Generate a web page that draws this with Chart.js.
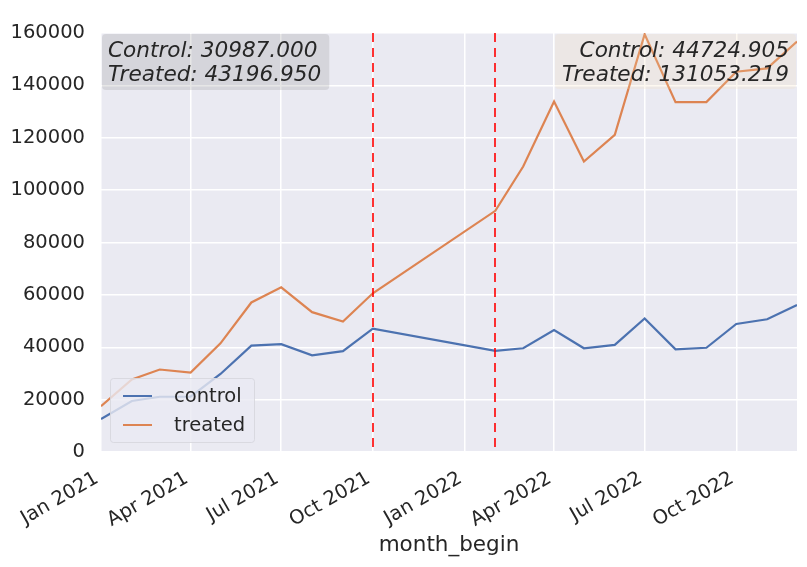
<!DOCTYPE html>
<html>
<head>
<meta charset="utf-8">
<script src="https://cdn.jsdelivr.net/npm/chart.js@4.4.1/dist/chart.umd.min.js"></script>
<style>
    html, body { margin: 0; padding: 0; background: #fff; }
    #wrap { width: 807px; height: 567px; }
</style>
</head>
<body>
<div id="wrap"><canvas id="chart" width="807" height="567"></canvas></div>
<script>
// monthly data (Nov 2021 - Jan 2022 missing in source)
const months = ['2021-01', '2021-02', '2021-03', '2021-04', '2021-05', '2021-06', '2021-07',
    '2021-08', '2021-09', '2021-10', '2022-02', '2022-03', '2022-04', '2022-05', '2022-06',
    '2022-07', '2022-08', '2022-09', '2022-10', '2022-11', '2022-12'];
const control = [12600, 19500, 21100, 21100, 29800, 40600, 41200, 36900, 38500, 47100,
    38600, 39600, 46600, 39600, 40900, 51000, 39200, 39800, 48900, 50700, 56100];
const treated = [17500, 27700, 31500, 30300, 41500, 57100, 62900, 53400, 49800, 60600,
    92100, 109000, 133800, 110900, 121100, 159500, 133600, 133600, 145200, 146500, 156700];

const eventMonths = ['2021-10', '2022-02'];
const tickMonths = ['2021-01', '2021-04', '2021-07', '2021-10', '2022-01', '2022-04', '2022-07', '2022-10'];
const tickLabels = ['Jan 2021', 'Apr 2021', 'Jul 2021', 'Oct 2021', 'Jan 2022', 'Apr 2022', 'Jul 2022', 'Oct 2022'];
const yTicks = [0, 20000, 40000, 60000, 80000, 100000, 120000, 140000, 160000];
const annotLeft = ['Control: 30987.000', 'Treated: 43196.950'];
const annotRight = ['Control: 44724.905', 'Treated: 131053.219'];

const FONT = "'DejaVu Sans', sans-serif";
const TEXT = '#262626';

// days since Jan 1 2021
function dayOf(m) {
    const [y, mo] = m.split('-').map(Number);
    return (Date.UTC(y, mo - 1, 1) - Date.UTC(2021, 0, 1)) / 86400000;
}

Chart.defaults.font.family = FONT;
Chart.defaults.color = TEXT;

const decorations = {
    id: 'decorations',
    beforeDraw(chart) {
        const { ctx, chartArea: a } = chart;
        ctx.save();
        ctx.fillStyle = '#EAEAF2';
        ctx.fillRect(a.left, a.top, a.right - a.left, a.bottom - a.top);
        ctx.restore();
    },
    afterDatasetsDraw(chart) {
        const { ctx, chartArea: a } = chart;
        const xs = chart.scales.x;
        ctx.save();

        // red dashed event lines
        ctx.strokeStyle = '#ff0000';
        ctx.lineWidth = 1.6;
        ctx.setLineDash([9, 6]);
        eventMonths.forEach(m => {
            const px = Math.round(xs.getPixelForValue(dayOf(m)));
            ctx.beginPath();
            ctx.moveTo(px, a.top);
            ctx.lineTo(px, a.bottom);
            ctx.stroke();
        });
        ctx.setLineDash([]);

        // annotation boxes
        ctx.font = 'italic 21.6px ' + FONT;
        const lh = 24;
        const wl = Math.max(...annotLeft.map(t => ctx.measureText(t).width));
        ctx.fillStyle = 'rgba(128,128,128,0.2)';
        roundRect(ctx, a.left + 1, a.top + 1, wl + 14, 56, 4);
        ctx.fill();
        ctx.fillStyle = TEXT;
        ctx.textAlign = 'left';
        ctx.textBaseline = 'alphabetic';
        annotLeft.forEach((t, i) => ctx.fillText(t, a.left + 7, a.top + 24 + i * lh));

        const wr = Math.max(...annotRight.map(t => ctx.measureText(t).width));
        const rx = a.right - 8;
        ctx.fillStyle = 'rgba(245,222,179,0.2)';
        roundRect(ctx, rx - wr - 7, a.top + 1, wr + 14, 55, 4);
        ctx.fill();
        ctx.fillStyle = TEXT;
        ctx.textAlign = 'right';
        annotRight.forEach((t, i) => ctx.fillText(t, rx, a.top + 24 + i * lh));

        // legend, lower left inside axes
        const lx = a.left + 9, ly = a.top + 345, lw = 144, lhgt = 64;
        ctx.fillStyle = 'rgba(234,234,242,0.8)';
        ctx.strokeStyle = 'rgba(215,215,222,0.9)';
        ctx.lineWidth = 1;
        roundRect(ctx, lx + 0.5, ly + 0.5, lw, lhgt, 3);
        ctx.fill();
        ctx.stroke();
        ctx.font = '19.5px ' + FONT;
        ctx.textAlign = 'left';
        ctx.textBaseline = 'middle';
        chart.data.datasets.forEach((ds, i) => {
            const cy = ly + 18 + i * 29;
            ctx.strokeStyle = ds.borderColor;
            ctx.lineWidth = 2;
            ctx.beginPath();
            ctx.moveTo(lx + 13, cy);
            ctx.lineTo(lx + 42, cy);
            ctx.stroke();
            ctx.fillStyle = TEXT;
            ctx.fillText(ds.label, lx + 64, cy + 1);
        });
        ctx.restore();
    }
};

function roundRect(ctx, x, y, w, h, r) {
    ctx.beginPath();
    ctx.moveTo(x + r, y);
    ctx.lineTo(x + w - r, y);
    ctx.quadraticCurveTo(x + w, y, x + w, y + r);
    ctx.lineTo(x + w, y + h - r);
    ctx.quadraticCurveTo(x + w, y + h, x + w - r, y + h);
    ctx.lineTo(x + r, y + h);
    ctx.quadraticCurveTo(x, y + h, x, y + h - r);
    ctx.lineTo(x, y + r);
    ctx.quadraticCurveTo(x, y, x + r, y);
    ctx.closePath();
}

const ctx = document.getElementById('chart').getContext('2d');
new Chart(ctx, {
    type: 'line',
    data: {
        datasets: [{
            label: 'control',
            data: months.map((m, i) => ({ x: dayOf(m), y: control[i] })),
            borderColor: '#4C72B0',
            borderWidth: 2.2,
            pointRadius: 0,
            tension: 0
        }, {
            label: 'treated',
            data: months.map((m, i) => ({ x: dayOf(m), y: treated[i] })),
            borderColor: '#DD8452',
            borderWidth: 2.2,
            pointRadius: 0,
            tension: 0
        }]
    },
    options: {
        responsive: false,
        animation: false,
        devicePixelRatio: 1,
        layout: { padding: { top: 33, right: 10, left: 0, bottom: 0 } },
        plugins: {
            legend: { display: false },
            tooltip: { enabled: false }
        },
        scales: {
            x: {
                type: 'linear',
                min: 0,
                max: dayOf('2022-12'),
                border: { display: false },
                grid: { color: '#ffffff', lineWidth: 1.5, drawTicks: false },
                afterBuildTicks: scale => {
                    scale.ticks = tickMonths.map(m => ({ value: dayOf(m) }));
                },
                afterFit: scale => { scale.height = 115; },
                ticks: {
                    autoSkip: false,
                    minRotation: 30,
                    maxRotation: 30,
                    padding: 15,
                    labelOffset: -4,
                    font: { size: 19.5 },
                    color: TEXT,
                    callback: value => {
                        const i = tickMonths.findIndex(m => dayOf(m) === value);
                        return i >= 0 ? tickLabels[i] : '';
                    }
                },
                title: {
                    display: true,
                    text: 'month_begin',
                    font: { size: 21.5 },
                    color: TEXT,
                    padding: { top: 0, bottom: 9 }
                }
            },
            y: {
                min: 0,
                max: 160000,
                border: { display: false },
                grid: { color: '#ffffff', lineWidth: 1.5, drawTicks: false },
                afterBuildTicks: scale => {
                    scale.ticks = yTicks.map(v => ({ value: v }));
                },
                afterFit: scale => { scale.width = 101; },
                ticks: {
                    padding: 16,
                    font: { size: 19.5 },
                    color: TEXT,
                    callback: value => String(value)
                }
            }
        }
    },
    plugins: [decorations]
});
</script>
</body>
</html>
